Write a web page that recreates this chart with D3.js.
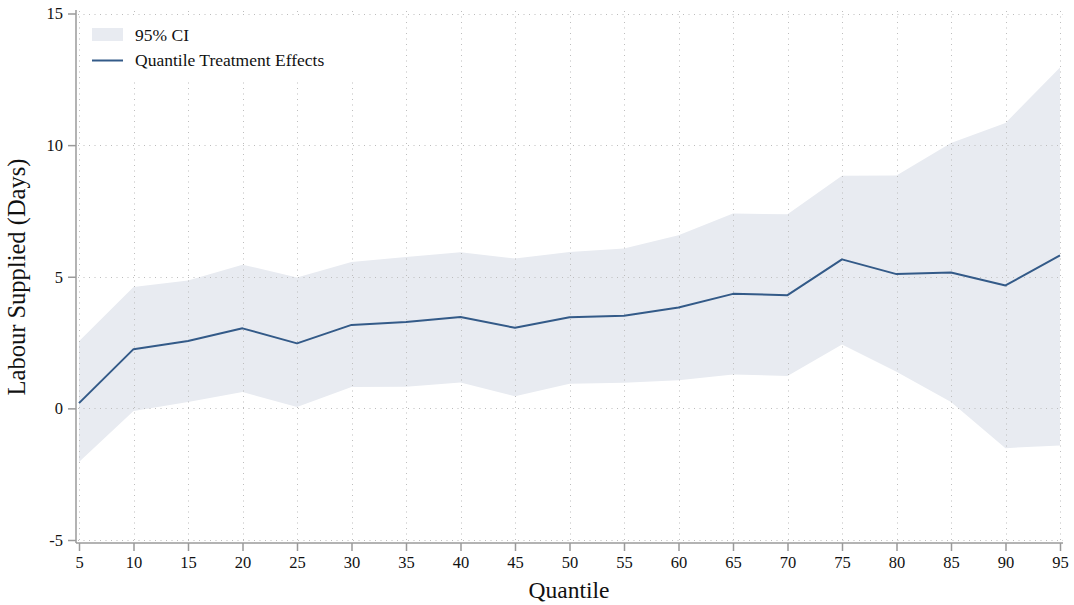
<!DOCTYPE html>
<html>
<head>
<meta charset="utf-8">
<script src="https://cdn.jsdelivr.net/npm/d3@7"></script>
<style>
  html, body { margin: 0; padding: 0; background: #fff; }
  svg { display: block; font-family: "Liberation Serif", "DejaVu Serif", serif; }
</style>
</head>
<body>
<svg id="chart" width="1074" height="605"></svg>
<script>
// Quantiles at which the treatment effect was estimated
const quantiles = [5, 10, 15, 20, 25, 30, 35, 40, 45, 50, 55, 60, 65, 70, 75, 80, 85, 90, 95];
// Point estimates (days of labour supplied)
const effects = [0.20, 2.25, 2.56, 3.04, 2.47, 3.17, 3.28, 3.47, 3.06, 3.46, 3.52, 3.83, 4.35, 4.30, 5.66, 5.10, 5.16, 4.67, 5.81];
// 95% confidence bounds
const ciLower = [-2.04, -0.10, 0.24, 0.62, 0.05, 0.81, 0.82, 0.98, 0.46, 0.94, 0.97, 1.07, 1.29, 1.23, 2.43, 1.39, 0.24, -1.51, -1.41];
const ciUpper = [2.55, 4.61, 4.86, 5.46, 4.97, 5.56, 5.75, 5.93, 5.69, 5.94, 6.07, 6.58, 7.40, 7.37, 8.84, 8.85, 10.08, 10.84, 12.95];
// Axis ticks
const xTicks = [5, 10, 15, 20, 25, 30, 35, 40, 45, 50, 55, 60, 65, 70, 75, 80, 85, 90, 95];
const yTicks = [-5, 0, 5, 10, 15];

const rows = quantiles.map((q, i) => ({ q, est: effects[i], lo: ciLower[i], hi: ciUpper[i] }));

const svg = d3.select("#chart");
const x = d3.scaleLinear().domain([5, 95]).range([79, 1060]);
const y = d3.scaleLinear().domain([-5, 15]).range([540, 13.5]);

const axisColor = "#9a9a9a";
const gridColor = "#bdbdbd";
const bandColor = "#e8ebf1";
const lineColor = "#335a88";
const textColor = "#111";

// Confidence band
svg.append("path")
  .datum(rows)
  .attr("fill", bandColor)
  .attr("d", d3.area().x(d => x(d.q)).y0(d => y(d.lo)).y1(d => y(d.hi)));

// Dotted gridlines
const grid = svg.append("g")
  .attr("stroke", gridColor)
  .attr("stroke-width", 1)
  .attr("stroke-dasharray", "1,4.5");
grid.selectAll("line.h").data(yTicks).join("line")
  .attr("class", "h")
  .attr("x1", 78).attr("x2", 1063)
  .attr("y1", d => Math.round(y(d)) + 0.5).attr("y2", d => Math.round(y(d)) + 0.5);
grid.selectAll("line.v").data(xTicks).join("line")
  .attr("class", "v")
  .attr("y1", 11).attr("y2", 542)
  .attr("x1", d => Math.round(x(d)) + 0.5).attr("x2", d => Math.round(x(d)) + 0.5);

// Legend backing
svg.append("rect")
  .attr("x", 81).attr("y", 16).attr("width", 280).attr("height", 64)
  .attr("fill", "#fff");

// Estimate line
svg.append("path")
  .datum(rows)
  .attr("fill", "none")
  .attr("stroke", lineColor)
  .attr("stroke-width", 2)
  .attr("stroke-linejoin", "round")
  .attr("d", d3.line().x(d => x(d.q)).y(d => y(d.est)));

// Axes
const fmt = d => String(d);
const xAxis = svg.append("g")
  .attr("transform", "translate(0,543)")
  .call(d3.axisBottom(x).tickValues(xTicks).tickFormat(fmt).tickSize(8).tickPadding(5).tickSizeOuter(0));
const yAxis = svg.append("g")
  .attr("transform", "translate(76,0)")
  .call(d3.axisLeft(y).tickValues(yTicks).tickFormat(fmt).tickSize(8).tickPadding(5).tickSizeOuter(0));

xAxis.select(".domain").attr("d", "M76,0H1063");
yAxis.select(".domain").attr("d", "M0,543V10");
[xAxis, yAxis].forEach(a => {
  a.select(".domain").attr("stroke", axisColor).attr("stroke-width", 1.5);
  a.selectAll(".tick line").attr("stroke", axisColor).attr("stroke-width", 1.5);
  a.selectAll(".tick text")
    .attr("fill", textColor)
    .style("font-family", "'Liberation Serif', 'DejaVu Serif', serif")
    .style("font-size", "16.5px");
});

// Axis titles
svg.append("text")
  .attr("x", 569).attr("y", 598)
  .attr("text-anchor", "middle")
  .attr("fill", textColor)
  .style("font-size", "23.5px")
  .text("Quantile");
svg.append("text")
  .attr("transform", "translate(25,277) rotate(-90)")
  .attr("text-anchor", "middle")
  .attr("fill", textColor)
  .style("font-size", "24.5px")
  .text("Labour Supplied (Days)");

// Legend entries
const legend = svg.append("g");
legend.append("rect")
  .attr("x", 92).attr("y", 28).attr("width", 31).attr("height", 13)
  .attr("fill", bandColor);
legend.append("text")
  .attr("x", 135).attr("y", 41)
  .attr("fill", textColor).style("font-size", "17.5px")
  .text("95% CI");
legend.append("line")
  .attr("x1", 92).attr("x2", 123).attr("y1", 60.5).attr("y2", 60.5)
  .attr("stroke", lineColor).attr("stroke-width", 2);
legend.append("text")
  .attr("x", 135).attr("y", 66)
  .attr("fill", textColor).style("font-size", "17.5px")
  .text("Quantile Treatment Effects");
</script>
</body>
</html>
